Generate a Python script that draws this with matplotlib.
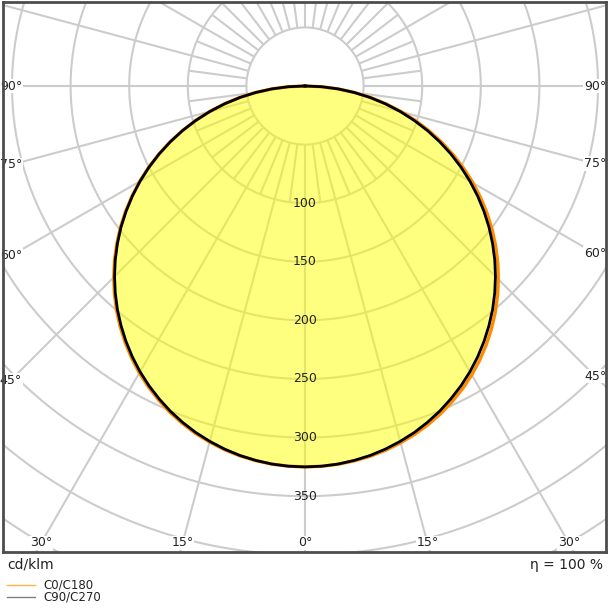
import numpy as np
import matplotlib
matplotlib.use("Agg")
import matplotlib.pyplot as plt
from matplotlib.lines import Line2D

# luminous intensity (cd/klm), gamma 0..90 deg in 2.5 deg steps
gamma = [0, 2.5, 5, 7.5, 10, 12.5, 15, 17.5, 20, 22.5, 25, 27.5, 30, 32.5, 35, 37.5,
         40, 42.5, 45, 47.5, 50, 52.5, 55, 57.5, 60, 62.5, 65, 67.5, 70, 72.5, 75,
         77.5, 80, 82.5, 85, 87.5, 90]
c0 = [325.0, 324.8, 324.0, 322.6, 320.8, 318.3, 315.2, 311.6, 307.4, 302.6, 297.1,
      291.2, 284.6, 277.4, 269.6, 261.3, 252.5, 243.1, 233.3, 223.1, 212.4, 201.3,
      189.8, 177.9, 165.6, 153.0, 140.0, 126.8, 113.3, 99.5, 85.5, 71.3, 57.0, 42.8,
      28.5, 14.3, 0.0]
c180 = [325.0, 324.7, 323.9, 322.4, 320.4, 317.8, 314.5, 310.8, 306.3, 301.3, 295.6,
        289.4, 282.7, 275.3, 267.4, 259.0, 250.1, 240.7, 230.8, 220.5, 209.7, 198.6,
        187.0, 175.1, 162.9, 150.4, 137.6, 124.5, 111.3, 97.8, 84.1, 70.3, 56.4, 42.4,
        28.3, 14.2, 0.0]
c90 = [325.0, 324.7, 323.8, 322.2, 320.1, 317.3, 313.9, 310.0, 305.4, 300.3, 294.5,
       288.3, 281.5, 274.1, 266.2, 257.8, 249.0, 239.6, 229.8, 219.6, 208.9, 197.9,
       186.4, 174.6, 162.5, 150.1, 137.4, 124.4, 111.2, 97.7, 84.1, 70.3, 56.4, 42.4,
       28.3, 14.2, 0.0]
c270 = list(c90)

ring_values = [50, 100, 150, 200, 250, 300, 350, 400, 450, 500]
ring_labels = [100, 150, 200, 250, 300, 350]
angle_labels = [0, 15, 30, 45, 60, 75, 90]
eta = "η = 100 %"
unit = "cd/klm"


def to_xy(ang_deg, r, side):
    a = np.radians(np.asarray(ang_deg, dtype=float))
    r = np.asarray(r, dtype=float)
    return side * r * np.sin(a), -r * np.cos(a)


def half_curve(right, left):
    xr, yr = to_xy(gamma, right, 1)
    xl, yl = to_xy(gamma, left, -1)
    return np.concatenate([xl[::-1], xr]), np.concatenate([yl[::-1], yr])


fig = plt.figure(figsize=(6.08, 6.08), dpi=100)
ax = fig.add_axes([3 / 608, 56 / 608, 603 / 608, 550 / 608])
px = 1.172  # pixels per cd/klm
ax.set_xlim(-302 / px, 301 / px)
ax.set_ylim(-(552 - 86) / px, (86 - 2) / px)
ax.set_xticks([])
ax.set_yticks([])
for sp in ax.spines.values():
    sp.set_color("#4d4d4d")
    sp.set_linewidth(2)
    sp.set_zorder(10)

grid_kw = dict(color="#cccccc", lw=1.5, zorder=1, solid_capstyle="butt")
t = np.linspace(0, 2 * np.pi, 400)
for r in ring_values:
    ax.plot(r * np.cos(t), r * np.sin(t), **grid_kw)
for a in np.arange(0, 360, 15):
    x, y = to_xy([a, a], [50, 700], 1)
    ax.plot(x, y, **grid_kw)
for a in np.arange(7.5, 360, 15):
    x, y = to_xy([a, a], [50, 100], 1)
    ax.plot(x, y, **grid_kw)

x90, y90 = half_curve(c90, c270)
x0, y0 = half_curve(c0, c180)
ax.fill(x90, y90, color="#ffff00", alpha=0.5, lw=0, zorder=2)
ax.plot(x0, y0, color="#ff8c00", lw=2.4, zorder=3)
ax.plot(x90, y90, color="black", lw=2.0, zorder=4)

for v in ring_labels:
    ax.text(0, -v, str(v), ha="center", va="center", fontsize=9,
            color="#222222", zorder=5)

# label insets (px from the centre) for right / left side and bottom
xin = {1: 290 / px, -1: 294 / px}
ybot = (543 - 86) / px
for a in angle_labels:
    for side in (1, -1):
        if a == 0 and side == -1:
            continue
        s, c = np.sin(np.radians(a)), np.cos(np.radians(a))
        cand = []
        if s > 1e-9:
            cand.append(xin[side] / s)
        if c > 1e-9:
            cand.append(ybot / c)
        d = min(cand)
        ax.text(side * d * s, -d * c, f"{a}°", ha="center", va="center",
                fontsize=9, color="#222222", zorder=6,
                bbox=dict(fc="white", ec="none", pad=0.5))

fig.text(7 / 608, 1 - 565 / 608, unit, fontsize=10, va="center", color="#222222")
fig.text(603 / 608, 1 - 565 / 608, eta, fontsize=10, va="center", ha="right",
         color="#222222")
fig.add_artist(Line2D([7 / 608, 35 / 608], [1 - 585 / 608] * 2, color="#ffb347", lw=1))
fig.add_artist(Line2D([7 / 608, 35 / 608], [1 - 597 / 608] * 2, color="#808080", lw=1))
fig.text(43 / 608, 1 - 585 / 608, "C0/C180", fontsize=8.5, va="center", color="#222222")
fig.text(43 / 608, 1 - 597 / 608, "C90/C270", fontsize=8.5, va="center", color="#222222")

fig.savefig("out.png", dpi=100)
